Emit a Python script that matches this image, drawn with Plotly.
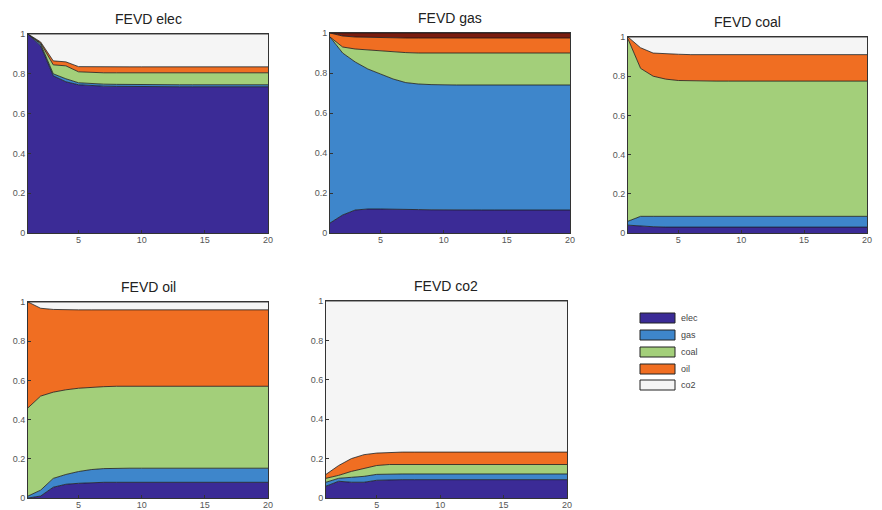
import plotly.graph_objects as go

x = list(range(1, 21))
series = ["elec", "gas", "coal", "oil", "co2"]
titles = ["FEVD elec", "FEVD gas", "FEVD coal", "FEVD oil", "FEVD co2"]
x_ticks = [5, 10, 15, 20]
y_ticks = [0, 0.2, 0.4, 0.6, 0.8, 1]
y_tick_labels = ["0", "0.2", "0.4", "0.6", "0.8", "1"]

# ---- FEVD elec panel (shares) ----
elec_elec = [1.00, 0.94, 0.79, 0.76, 0.745, 0.74, 0.738, 0.737, 0.736, 0.735,
             0.735, 0.735, 0.735, 0.735, 0.735, 0.735, 0.735, 0.735, 0.735, 0.735]
elec_gas = [0.00, 0.01, 0.01, 0.015, 0.01, 0.01, 0.01, 0.01, 0.01, 0.01,
            0.01, 0.01, 0.01, 0.01, 0.01, 0.01, 0.01, 0.01, 0.01, 0.01]
elec_coal = [0.00, 0.005, 0.045, 0.065, 0.055, 0.056, 0.057, 0.058, 0.059, 0.06,
             0.06, 0.06, 0.06, 0.06, 0.06, 0.06, 0.06, 0.06, 0.06, 0.06]
elec_oil = [0.00, 0.005, 0.02, 0.02, 0.026, 0.029, 0.03, 0.03, 0.03, 0.03,
            0.03, 0.03, 0.03, 0.03, 0.03, 0.03, 0.03, 0.03, 0.03, 0.03]
elec_co2 = [0.00, 0.04, 0.135, 0.14, 0.164, 0.165, 0.165, 0.165, 0.165, 0.165,
            0.165, 0.165, 0.165, 0.165, 0.165, 0.165, 0.165, 0.165, 0.165, 0.165]

# ---- FEVD gas panel ----
gas_elec = [0.05, 0.09, 0.115, 0.12, 0.12, 0.12, 0.118, 0.117, 0.116, 0.115,
            0.115, 0.115, 0.115, 0.115, 0.115, 0.115, 0.115, 0.115, 0.115, 0.115]
gas_gas = [0.93, 0.81, 0.74, 0.70, 0.675, 0.65, 0.634, 0.628, 0.626, 0.625,
           0.625, 0.625, 0.625, 0.625, 0.625, 0.625, 0.625, 0.625, 0.625, 0.625]
gas_coal = [0.00, 0.03, 0.065, 0.095, 0.115, 0.135, 0.15, 0.155, 0.158, 0.16,
            0.16, 0.16, 0.16, 0.16, 0.16, 0.16, 0.16, 0.16, 0.16, 0.16]
gas_oil = [0.02, 0.055, 0.06, 0.063, 0.066, 0.07, 0.073, 0.075, 0.075, 0.075,
           0.075, 0.075, 0.075, 0.075, 0.075, 0.075, 0.075, 0.075, 0.075, 0.075]
gas_co2 = [0.00, 0.015, 0.02, 0.022, 0.024, 0.025, 0.025, 0.025, 0.025, 0.025,
           0.025, 0.025, 0.025, 0.025, 0.025, 0.025, 0.025, 0.025, 0.025, 0.025]

# ---- FEVD coal panel ----
coal_elec = [0.04, 0.035, 0.032, 0.03, 0.03, 0.03, 0.03, 0.03, 0.03, 0.03,
             0.03, 0.03, 0.03, 0.03, 0.03, 0.03, 0.03, 0.03, 0.03, 0.03]
coal_gas = [0.02, 0.05, 0.053, 0.055, 0.055, 0.055, 0.055, 0.055, 0.055, 0.055,
            0.055, 0.055, 0.055, 0.055, 0.055, 0.055, 0.055, 0.055, 0.055, 0.055]
coal_coal = [0.93, 0.755, 0.715, 0.70, 0.693, 0.691, 0.69, 0.69, 0.69, 0.69,
             0.69, 0.69, 0.69, 0.69, 0.69, 0.69, 0.69, 0.69, 0.69, 0.69]
coal_oil = [0.01, 0.105, 0.118, 0.129, 0.134, 0.134, 0.135, 0.135, 0.135, 0.135,
            0.135, 0.135, 0.135, 0.135, 0.135, 0.135, 0.135, 0.135, 0.135, 0.135]
coal_co2 = [0.00, 0.055, 0.082, 0.086, 0.088, 0.09, 0.09, 0.09, 0.09, 0.09,
            0.09, 0.09, 0.09, 0.09, 0.09, 0.09, 0.09, 0.09, 0.09, 0.09]

# ---- FEVD oil panel ----
oil_elec = [0.00, 0.01, 0.055, 0.07, 0.075, 0.078, 0.08, 0.08, 0.08, 0.08,
            0.08, 0.08, 0.08, 0.08, 0.08, 0.08, 0.08, 0.08, 0.08, 0.08]
oil_gas = [0.01, 0.03, 0.045, 0.05, 0.06, 0.067, 0.07, 0.072, 0.072, 0.072,
           0.072, 0.072, 0.072, 0.072, 0.072, 0.072, 0.072, 0.072, 0.072, 0.072]
oil_coal = [0.45, 0.48, 0.44, 0.432, 0.425, 0.42, 0.418, 0.418, 0.418, 0.418,
            0.418, 0.418, 0.418, 0.418, 0.418, 0.418, 0.418, 0.418, 0.418, 0.418]
oil_oil = [0.54, 0.448, 0.422, 0.408, 0.40, 0.395, 0.392, 0.39, 0.39, 0.39,
           0.39, 0.39, 0.39, 0.39, 0.39, 0.39, 0.39, 0.39, 0.39, 0.39]
oil_co2 = [0.00, 0.032, 0.038, 0.04, 0.04, 0.04, 0.04, 0.04, 0.04, 0.04,
           0.04, 0.04, 0.04, 0.04, 0.04, 0.04, 0.04, 0.04, 0.04, 0.04]

# ---- FEVD co2 panel ----
co2_elec = [0.06, 0.085, 0.08, 0.08, 0.09, 0.093, 0.093, 0.093, 0.093, 0.093,
            0.093, 0.093, 0.093, 0.093, 0.093, 0.093, 0.093, 0.093, 0.093, 0.093]
co2_gas = [0.02, 0.015, 0.025, 0.03, 0.03, 0.029, 0.029, 0.029, 0.029, 0.029,
           0.029, 0.029, 0.029, 0.029, 0.029, 0.029, 0.029, 0.029, 0.029, 0.029]
co2_coal = [0.02, 0.015, 0.03, 0.04, 0.045, 0.048, 0.048, 0.048, 0.048, 0.048,
            0.048, 0.048, 0.048, 0.048, 0.048, 0.048, 0.048, 0.048, 0.048, 0.048]
co2_oil = [0.02, 0.05, 0.065, 0.07, 0.063, 0.062, 0.063, 0.063, 0.063, 0.063,
           0.063, 0.063, 0.063, 0.063, 0.063, 0.063, 0.063, 0.063, 0.063, 0.063]
co2_co2 = [0.88, 0.835, 0.80, 0.78, 0.772, 0.768, 0.767, 0.767, 0.767, 0.767,
           0.767, 0.767, 0.767, 0.767, 0.767, 0.767, 0.767, 0.767, 0.767, 0.767]

panels = [
    [elec_elec, elec_gas, elec_coal, elec_oil, elec_co2],
    [gas_elec, gas_gas, gas_coal, gas_oil, gas_co2],
    [coal_elec, coal_gas, coal_coal, coal_oil, coal_co2],
    [oil_elec, oil_gas, oil_coal, oil_oil, oil_co2],
    [co2_elec, co2_gas, co2_coal, co2_oil, co2_co2],
]

colors = ["#3b2b96", "#3e86cb", "#a3cf7a", "#f06e22", "#f5f5f5"]

# The page body has an 8 px margin, so the figure is drawn 8 px smaller
# and every target pixel position is shifted by that offset.
OFF = 8
W, H = 882 - OFF, 510 - OFF
# target plot areas in window pixels: (left, right, top, bottom)
boxes = [
    (28, 268, 34, 233),
    (330, 570, 33, 233),
    (628, 867, 37, 233),
    (28, 268, 302, 498),
    (326, 567, 301, 498),
]


def px(v):
    return (v - OFF) / W


def py(v):
    return 1 - (v - OFF) / H


FONT = "Liberation Sans, Arial, sans-serif"
fig = go.Figure()
layout = dict(
    width=W, height=H, margin=dict(l=0, r=0, t=0, b=0, autoexpand=False),
    paper_bgcolor="white", plot_bgcolor="white", showlegend=False,
    font=dict(family=FONT, color="#444"),
)
annotations = []
shapes = []

for i, (vals, box) in enumerate(zip(panels, boxes)):
    k = "" if i == 0 else str(i + 1)
    for j, name in enumerate(series):
        fill = colors[j]
        if i == 1 and name == "co2":
            fill = "#7a1c0e"
        fig.add_trace(go.Scatter(
            x=x, y=vals[j], name=name, mode="lines",
            stackgroup="p%d" % i, fillcolor=fill,
            line=dict(color="#1a1a1a", width=0.8),
            xaxis="x" + k, yaxis="y" + k, hoverinfo="skip",
        ))
    l, r, t, b = box
    axcommon = dict(showgrid=False, zeroline=False, showline=True, mirror=True,
                    linecolor="#333", linewidth=1, ticks="inside", ticklen=3,
                    tickcolor="#333", automargin=False,
                    tickfont=dict(size=9, color="#555", family=FONT))
    layout["xaxis" + k] = dict(axcommon, domain=[px(l), px(r)], range=[1, 20],
                               tickvals=x_ticks, anchor="y" + k, ticklabelstandoff=-2)
    layout["yaxis" + k] = dict(axcommon, domain=[py(b), py(t)], range=[0, 1],
                               tickvals=y_ticks, ticktext=y_tick_labels, anchor="x" + k)
    annotations.append(dict(
        text=titles[i], x=px((l + r) / 2), y=py(t - 5), xref="paper", yref="paper",
        xanchor="center", yanchor="bottom", showarrow=False,
        font=dict(size=14, color="#222", family=FONT),
    ))

# manual legend
leg_x0, leg_x1 = 640, 675
leg_rows = [318, 335, 352, 369, 385]
for j, name in enumerate(series):
    yc = leg_rows[j]
    shapes.append(dict(type="rect", xref="paper", yref="paper",
                       x0=px(leg_x0), x1=px(leg_x1),
                       y0=py(yc + 5), y1=py(yc - 5),
                       fillcolor=colors[j], line=dict(color="#222", width=1)))
    annotations.append(dict(text=name, x=px(leg_x1 + 4), y=py(yc),
                            xref="paper", yref="paper", xanchor="left", yanchor="middle",
                            showarrow=False, font=dict(size=9, color="#444", family=FONT)))

layout["annotations"] = annotations
layout["shapes"] = shapes
fig.update_layout(**layout)
fig.write_html("out.html")
